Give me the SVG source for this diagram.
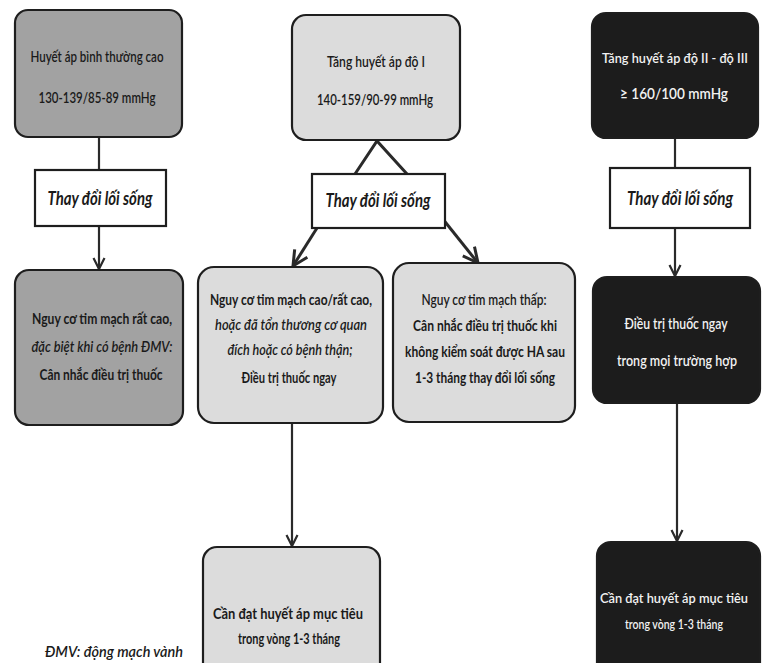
<svg xmlns="http://www.w3.org/2000/svg" width="767" height="663" viewBox="0 0 767 663">
<style>
text{font-family:"Lato","Open Sans",sans-serif;font-size:15.5px;font-weight:600;text-anchor:middle;fill:#1a1a1a}
.w{fill:#f2f2f2}
.b{font-weight:bold}
.i{font-style:italic}
.s{font-size:14px}
.t{font-weight:bold;font-style:italic;font-size:18px}
.box{stroke:#1e1e1e;stroke-width:2.2}
.mid{fill:#a2a2a2}
.lt{fill:#dcdcdc}
.dk{fill:#1c1c1c}
.wh{fill:#ffffff}
.c{stroke:#2a2a2a;stroke-width:2.2;fill:none}
.c2{stroke:#2a2a2a;stroke-width:3;fill:none}
</style>
<defs>
<marker id="ah" viewBox="0 0 12 12" refX="11" refY="6" markerWidth="6" markerHeight="6" orient="auto" markerUnits="strokeWidth">
<path d="M1,1 L11,6 L1,11" fill="none" stroke="#2a2a2a" stroke-width="2"/>
</marker>
</defs>
<rect width="767" height="663" fill="#ffffff"/>
<g id="connectors">
<line class="c" x1="99" y1="137" x2="99" y2="170"/>
<line class="c" x1="99" y1="226" x2="99" y2="269" marker-end="url(#ah)"/>
<polyline class="c2" points="355,174 377,141 407,174"/>
<line class="c2" x1="317" y1="228" x2="293" y2="266" marker-end="url(#ah)"/>
<line class="c2" x1="442" y1="218" x2="478" y2="263" marker-end="url(#ah)"/>
<line class="c" x1="292" y1="423" x2="292" y2="546" marker-end="url(#ah)"/>
<line class="c" x1="675" y1="138" x2="675" y2="168"/>
<line class="c" x1="675" y1="228" x2="675" y2="276" marker-end="url(#ah)"/>
<line class="c" x1="677" y1="403" x2="677" y2="541" marker-end="url(#ah)"/>
</g>
<g id="n1">
<rect class="box mid" x="15" y="10" width="167" height="127" rx="13"/>
<text x="97" y="62" textLength="133" lengthAdjust="spacingAndGlyphs">Huyết áp bình thường cao</text>
<text x="97" y="103" textLength="117" lengthAdjust="spacingAndGlyphs">130-139/85-89 mmHg</text>
</g>
<g id="n2">
<rect class="box wh" x="35" y="170" width="131" height="56"/>
<text class="t" x="100" y="205" textLength="105" lengthAdjust="spacingAndGlyphs">Thay đổi lối sống</text>
</g>
<g id="n3">
<rect class="box mid" x="15" y="270" width="168" height="155" rx="14"/>
<text class="b" x="102" y="324" textLength="140" lengthAdjust="spacingAndGlyphs">Nguy cơ tim mạch rất cao,</text>
<text class="i" x="102" y="352" textLength="141" lengthAdjust="spacingAndGlyphs">đặc biệt khi có bệnh ĐMV:</text>
<text class="b" x="101" y="380" textLength="123" lengthAdjust="spacingAndGlyphs">Cân nhắc điều trị thuốc</text>
</g>
<g id="n4">
<rect class="box lt" x="292" y="15" width="168" height="125" rx="14"/>
<text x="376" y="67" textLength="98" lengthAdjust="spacingAndGlyphs">Tăng huyết áp độ I</text>
<text x="375" y="105" textLength="116" lengthAdjust="spacingAndGlyphs">140-159/90-99 mmHg</text>
</g>
<g id="n5">
<rect class="box wh" x="312" y="174" width="133" height="54"/>
<text class="t" x="378" y="207" textLength="105" lengthAdjust="spacingAndGlyphs">Thay đổi lối sống</text>
</g>
<g id="n6">
<rect class="box lt" x="198" y="267" width="185" height="156" rx="16"/>
<text class="b" x="291" y="305" textLength="162" lengthAdjust="spacingAndGlyphs">Nguy cơ tim mạch cao/rất cao,</text>
<text class="i" x="291" y="330" textLength="152" lengthAdjust="spacingAndGlyphs">hoặc đã tổn thương cơ quan</text>
<text class="i" x="290" y="355" textLength="125" lengthAdjust="spacingAndGlyphs">đích hoặc có bệnh thận;</text>
<text class="b" x="289" y="383" textLength="95" lengthAdjust="spacingAndGlyphs">Điều trị thuốc ngay</text>
</g>
<g id="n7">
<rect class="box lt" x="393" y="263" width="182" height="159" rx="16"/>
<text x="484" y="305" textLength="125" lengthAdjust="spacingAndGlyphs">Nguy cơ tim mạch thấp:</text>
<text class="b" x="485" y="331" textLength="144" lengthAdjust="spacingAndGlyphs">Cân nhắc điều trị thuốc khi</text>
<text class="b" x="485" y="357" textLength="160" lengthAdjust="spacingAndGlyphs">không kiểm soát được HA sau</text>
<text class="b" x="485" y="383" textLength="140" lengthAdjust="spacingAndGlyphs">1-3 tháng thay đổi lối sống</text>
</g>
<g id="n8">
<rect class="box lt" x="203" y="547" width="177" height="130" rx="14"/>
<text class="b" x="288" y="619" textLength="150" lengthAdjust="spacingAndGlyphs">Cần đạt huyết áp mục tiêu</text>
<text class="b" x="289" y="644" textLength="102" lengthAdjust="spacingAndGlyphs">trong vòng 1-3 tháng</text>
</g>
<g id="n9">
<rect class="box dk" x="592" y="13" width="166" height="125" rx="14"/>
<text class="w s" x="675" y="63" textLength="146" lengthAdjust="spacingAndGlyphs">Tăng huyết áp độ II - độ III</text>
<text class="w" x="674" y="99" textLength="108" lengthAdjust="spacingAndGlyphs">≥ 160/100 mmHg</text>
</g>
<g id="n10">
<rect class="box wh" x="610" y="168" width="140" height="60"/>
<text class="t" x="680" y="205" textLength="106" lengthAdjust="spacingAndGlyphs">Thay đổi lối sống</text>
</g>
<g id="n11">
<rect class="box dk" x="593" y="277" width="167" height="126" rx="14"/>
<text class="w" x="676" y="329" textLength="103" lengthAdjust="spacingAndGlyphs">Điều trị thuốc ngay</text>
<text class="w" x="677" y="366" textLength="120" lengthAdjust="spacingAndGlyphs">trong mọi trường hợp</text>
</g>
<g id="n12">
<rect class="box dk" x="597" y="542" width="163" height="135" rx="14"/>
<text class="w s" x="674" y="603" textLength="148" lengthAdjust="spacingAndGlyphs">Cần đạt huyết áp mục tiêu</text>
<text class="w s" x="674" y="629" textLength="98" lengthAdjust="spacingAndGlyphs">trong vòng 1-3 tháng</text>
</g>
<text class="i" x="45" y="657" style="text-anchor:start" textLength="138" lengthAdjust="spacingAndGlyphs">ĐMV: động mạch vành</text>
</svg>
